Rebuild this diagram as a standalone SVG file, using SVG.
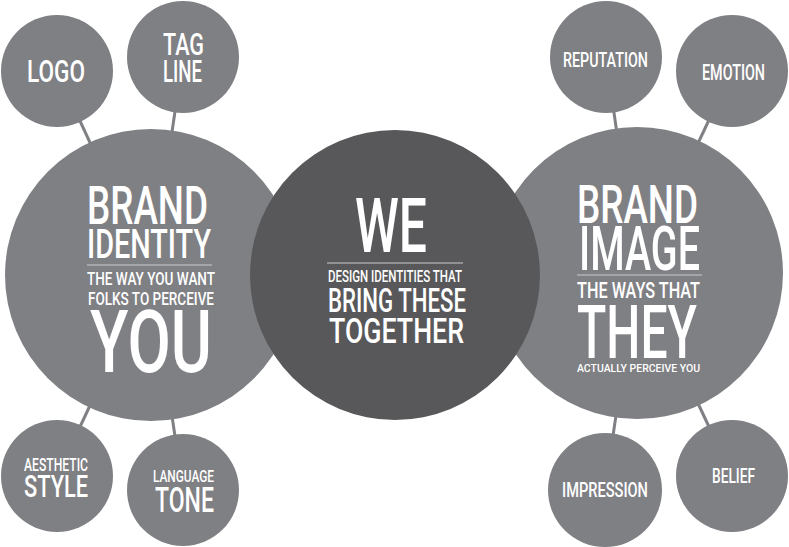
<svg xmlns="http://www.w3.org/2000/svg" width="789" height="547" viewBox="0 0 789 547">
<style>
.c{fill:#7f8084}
.d{fill:#58585a}
.ln{stroke:#7f8084;stroke-width:3;fill:none}
.sep{stroke:#c9c9cb;stroke-width:1.2}
text{font-family:Roboto,"Liberation Sans",sans-serif;fill:#ffffff;font-weight:500}
</style>
<rect width="789" height="547" fill="#ffffff"/>
<g id="connectors">
<line class="ln" x1="57" y1="71" x2="151" y2="275"/>
<line class="ln" x1="183" y1="57" x2="151" y2="275"/>
<line class="ln" x1="57" y1="476" x2="151" y2="275"/>
<line class="ln" x1="183" y1="490" x2="151" y2="275"/>
<line class="ln" x1="606" y1="57" x2="637" y2="273"/>
<line class="ln" x1="732" y1="71" x2="637" y2="273"/>
<line class="ln" x1="605" y1="490" x2="637" y2="273"/>
<line class="ln" x1="732" y1="476" x2="637" y2="273"/>
</g>
<g id="logo"><circle class="c" cx="57" cy="71" r="56"/><text x="27" y="82" font-size="32" textLength="58" lengthAdjust="spacingAndGlyphs">LOGO</text></g>
<g id="tagline"><circle class="c" cx="183" cy="57" r="56"/><text x="163" y="55" font-size="31" textLength="41" lengthAdjust="spacingAndGlyphs">TAG</text><text x="163" y="82" font-size="32" textLength="39" lengthAdjust="spacingAndGlyphs">LINE</text></g>
<g id="style"><circle class="c" cx="57" cy="476" r="56"/><text x="24" y="471" font-size="18" textLength="64" lengthAdjust="spacingAndGlyphs">AESTHETIC</text><text x="24" y="497" font-size="32" textLength="64" lengthAdjust="spacingAndGlyphs">STYLE</text></g>
<g id="tone"><circle class="c" cx="183" cy="490" r="56"/><text x="153" y="482" font-size="17" textLength="61" lengthAdjust="spacingAndGlyphs">LANGUAGE</text><text x="155" y="512" font-size="35" textLength="59" lengthAdjust="spacingAndGlyphs">TONE</text></g>
<g id="reputation"><circle class="c" cx="606" cy="57" r="56"/><text x="563" y="67" font-size="21" textLength="85" lengthAdjust="spacingAndGlyphs">REPUTATION</text></g>
<g id="emotion"><circle class="c" cx="732" cy="71" r="56"/><text x="702" y="80" font-size="22" textLength="63" lengthAdjust="spacingAndGlyphs">EMOTION</text></g>
<g id="impression"><circle class="c" cx="605" cy="490" r="57"/><text x="562" y="497" font-size="21" textLength="86" lengthAdjust="spacingAndGlyphs">IMPRESSION</text></g>
<g id="belief"><circle class="c" cx="732" cy="476" r="56"/><text x="712" y="483" font-size="21" textLength="43" lengthAdjust="spacingAndGlyphs">BELIEF</text></g>
<g id="brand-identity"><circle class="c" cx="151" cy="275" r="146"/>
<text x="87" y="224" font-size="53.5" textLength="121" lengthAdjust="spacingAndGlyphs">BRAND</text>
<text x="87" y="258" font-size="40" textLength="124" lengthAdjust="spacingAndGlyphs">IDENTITY</text>
<line class="sep" x1="87" y1="265" x2="212" y2="265"/>
<text x="87" y="285" font-size="18.3" textLength="128" lengthAdjust="spacingAndGlyphs">THE WAY YOU WANT</text>
<text x="88" y="305" font-size="18.3" textLength="126" lengthAdjust="spacingAndGlyphs">FOLKS TO PERCEIVE</text>
<text x="90" y="372" font-size="87" textLength="122" lengthAdjust="spacingAndGlyphs">YOU</text>
</g>
<g id="brand-image"><circle class="c" cx="637" cy="273" r="146"/>
<text x="577" y="223" font-size="53.5" textLength="121" lengthAdjust="spacingAndGlyphs">BRAND</text>
<text x="579" y="270" font-size="60.5" textLength="121" lengthAdjust="spacingAndGlyphs">IMAGE</text>
<line class="sep" x1="577" y1="275" x2="702" y2="275"/>
<text x="577" y="298" font-size="22.5" textLength="123" lengthAdjust="spacingAndGlyphs">THE WAYS THAT</text>
<text x="577" y="358" font-size="74.6" textLength="120" lengthAdjust="spacingAndGlyphs">THEY</text>
<text x="577" y="372" font-size="10" textLength="123" lengthAdjust="spacingAndGlyphs">ACTUALLY PERCEIVE YOU</text>
</g>
<g id="we"><circle class="d" cx="395" cy="275" r="145"/>
<text x="355" y="252" font-size="76" textLength="72" lengthAdjust="spacingAndGlyphs">WE</text>
<line class="sep" x1="327" y1="263" x2="463" y2="263"/>
<text x="328" y="282" font-size="17" textLength="134" lengthAdjust="spacingAndGlyphs">DESIGN IDENTITIES THAT</text>
<text x="328" y="312" font-size="34" textLength="138" lengthAdjust="spacingAndGlyphs">BRING THESE</text>
<text x="329" y="343" font-size="35" textLength="135" lengthAdjust="spacingAndGlyphs">TOGETHER</text>
</g>
</svg>
